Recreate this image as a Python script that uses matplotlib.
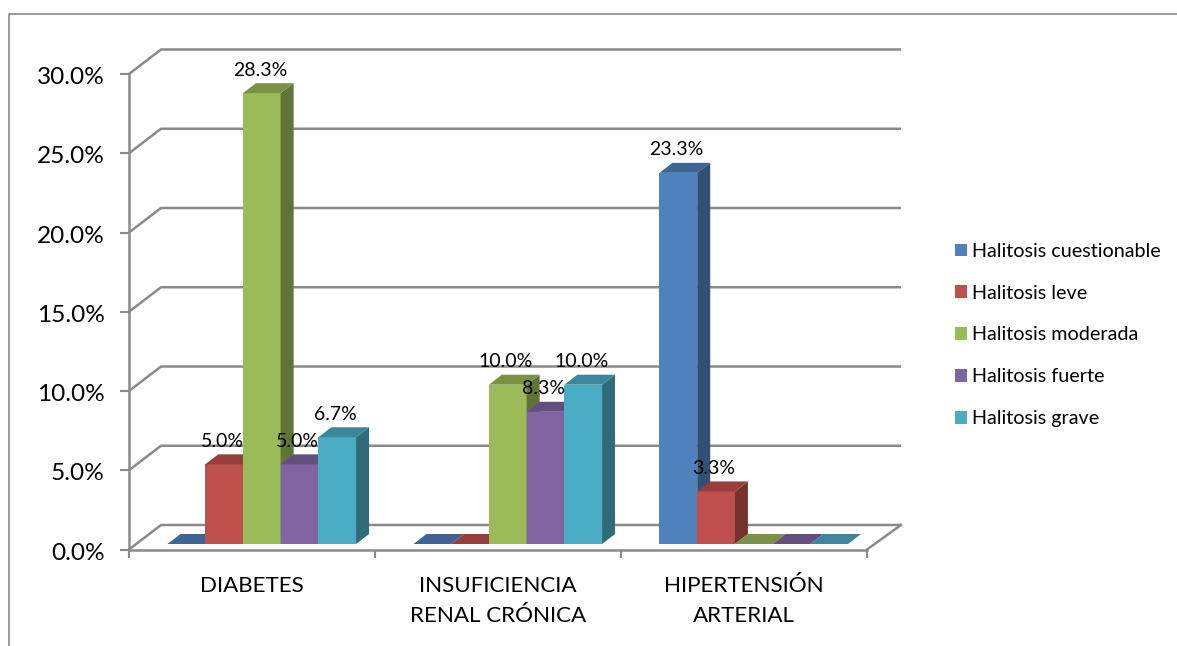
import matplotlib
matplotlib.use("Agg")
import matplotlib.pyplot as plt
from matplotlib.lines import Line2D
from matplotlib.patches import Patch, Polygon
from matplotlib.colors import to_rgb
from matplotlib.transforms import ScaledTranslation

plt.rcParams['font.family'] = ['Lato', 'DejaVu Sans']

categories = ["DIABETES", "INSUFICIENCIA\nRENAL CRÓNICA", "HIPERTENSIÓN\nARTERIAL"]
series_names = ["Halitosis cuestionable", "Halitosis leve", "Halitosis moderada",
                "Halitosis fuerte", "Halitosis grave"]
cuestionable = [0.0, 0.0, 23.3]
leve = [5.0, 0.0, 3.3]
moderada = [28.3, 10.0, 0.0]
fuerte = [5.0, 8.3, 0.0]
grave = [6.7, 10.0, 0.0]
series_values = [cuestionable, leve, moderada, fuerte, grave]
colors = ["#4F81BD", "#C0504D", "#9BBB59", "#8064A2", "#4BACC6"]
y_ticks = [0, 5, 10, 15, 20, 25, 30]

W, H = 1177, 646
GRAY = "#8A8A8A"


def shade(color, k):
    return tuple(c * k for c in to_rgb(color))


def axes_rect(left, right, bottom, top):
    # pixel box (y measured from the top of the image) to figure fractions
    return [left / W, 1 - bottom / H, (right - left) / W, (bottom - top) / H]


fig = plt.figure(figsize=(W / 100, H / 100), dpi=100, facecolor="white")

# outer chart border, only the top and left edges show
fig.add_artist(Line2D([8.5 / W, 8.5 / W, 1], [0, 1 - 14 / H, 1 - 14 / H],
                      color=GRAY, lw=1.2, transform=fig.transFigure))

# front plane with the axis, its ticks and the 3d walls
ax = fig.add_axes(axes_rect(129, 867, 549.5, 74))
ax.set_xlim(0, 3)
ax.set_ylim(0, 30)
for side in ["top", "right"]:
    ax.spines[side].set_visible(False)
for side in ["left", "bottom"]:
    ax.spines[side].set_color(GRAY)
    ax.spines[side].set_linewidth(1.8)
ax.set_yticks(y_ticks)
ax.set_yticklabels([f"{v:.1f}%" for v in y_ticks], fontsize=17.6, color="black")
ax.set_xticks([0, 1, 2, 3])
ax.set_xticklabels([])
ax.set_xticks([0.5, 1.5, 2.5], minor=True)
ax.set_xticklabels(categories, minor=True, fontsize=16.1, linespacing=1.65)
ax.tick_params(axis="y", length=6.5, width=1.5, color=GRAY, pad=11)
ax.tick_params(axis="x", which="major", length=6, width=1.5, color=GRAY)
ax.tick_params(axis="x", which="minor", length=0, pad=19)

# nudge the percent labels down a touch
nudge = ScaledTranslation(0, -1.5 / 100, fig.dpi_scale_trans)
for lab in ax.get_yticklabels():
    lab.set_transform(lab.get_transform() + nudge)

wall_dx = 32 / 246
wall_end = 3 + 34 / 246
wall_dy = 24.5 * 30 / 475.5
for v in y_ticks:
    ax.plot([0, wall_dx, wall_end], [v, v + wall_dy, v + wall_dy],
            color=GRAY, lw=1.8, clip_on=False, zorder=1, solid_capstyle="butt")
ax.plot([3, wall_end], [0, wall_dy], color=GRAY, lw=1.8, clip_on=False, zorder=1)

# bars sit a little behind the front plane, so they get their own axes
bar_px = 15.93
bx = fig.add_axes(axes_rect(129, 867, 544, 544 - 30 * bar_px))
bx.set_xlim(0, 3)
bx.set_ylim(0, 30)
bx.axis("off")

bar_w = 0.1533
start = 0.1565
depth_x = 13 / 246
depth_y = 10 / bar_px

for i, (vals, col) in enumerate(zip(series_values, colors)):
    for g, v in enumerate(vals):
        x0 = g + start + i * bar_w
        x1 = x0 + bar_w
        z = 3 + g * 10 + i
        bx.bar(x0, v, bar_w, align="edge", color=col, zorder=z, clip_on=False)
        top = [(x0, v), (x0 + depth_x, v + depth_y), (x1 + depth_x, v + depth_y), (x1, v)]
        right = [(x1, 0), (x1 + depth_x, depth_y), (x1 + depth_x, v + depth_y), (x1, v)]
        if v > 0:
            bx.add_patch(Polygon(right, closed=True, fc=shade(col, 0.62), ec="none",
                                 zorder=z, clip_on=False))
        bx.add_patch(Polygon(top, closed=True, fc=shade(col, 0.78), ec="none",
                             zorder=z, clip_on=False))
        if v > 0:
            bx.annotate(f"{v:.1f}%", (x0 + bar_w / 2, v), xytext=(-2, 23),
                        textcoords="offset pixels", ha="center", va="center",
                        fontsize=14, color="black", zorder=100)

handles = [Patch(facecolor=c, edgecolor="none") for c in colors]
fig.legend(handles, series_names, loc="center left",
           bbox_to_anchor=(955 / W, 1 - 335 / H), frameon=False,
           fontsize=14.2, handlelength=0.61, handleheight=0.61,
           handletextpad=0.25, labelspacing=1.26, borderpad=0, borderaxespad=0)

fig.savefig("out.png", dpi=100)
